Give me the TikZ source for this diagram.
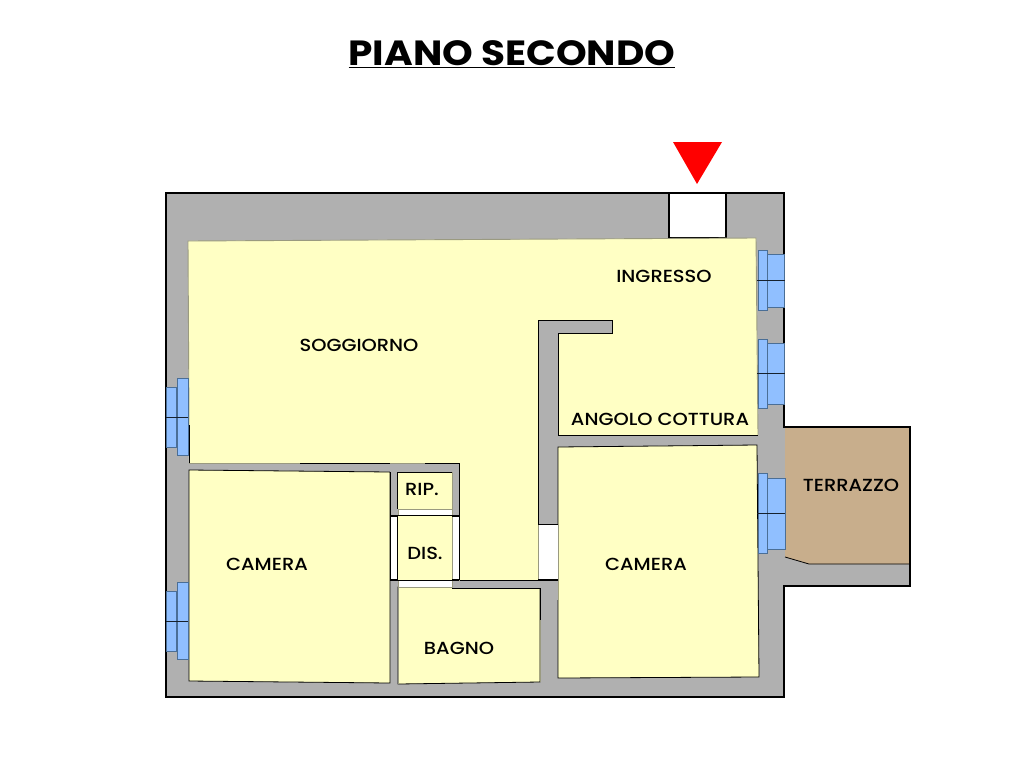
\documentclass[tikz,border=0pt]{standalone}
\usepackage{fontspec}
\setmainfont[FakeStretch=1.115]{Poppins}
\newfontfamily\labelfont[FakeStretch=1.11]{Poppins Medium}
\definecolor{wallgrey}{HTML}{B0B0B0}
\definecolor{roomyellow}{HTML}{FFFFC4}
\definecolor{glassblue}{HTML}{90BFFF}
\definecolor{frameblue}{HTML}{4A6E96}
\definecolor{terracetan}{HTML}{C8AE8C}
\definecolor{paleedge}{HTML}{9A9A80}
\tikzset{
  roomlabel/.style={font=\labelfont\fontsize{17.5}{20}\selectfont, text=black, inner sep=0pt},
  roomfill/.style={fill=roomyellow, draw=black, line width=0.8pt},
  opening/.style={fill=white, draw=paleedge, line width=0.8pt},
  edge/.style={draw=black, line width=0.8pt},
  softedge/.style={draw=paleedge, line width=0.9pt},
  jamb/.style={draw=black, line width=1.5pt},
  glasspane/.style={fill=glassblue, draw=frameblue, line width=1pt},
  crossbar/.style={draw=black!70!frameblue, line width=0.8pt}
}
\begin{document}
\begin{tikzpicture}[x=1pt,y=-1pt]
  \useasboundingbox (0,0) rectangle (1024,768);
  % title
  \node (title) at (512,54) {\fontsize{35}{40}\selectfont\bfseries\underline{PIANO SECONDO}};
  % entrance arrow
  \fill[red] (673,142)--(722,142)--(697,184)--cycle;

  % walls
  \draw[fill=wallgrey, draw=black, line width=1.6pt] (166,193)--(784,193)--(784,427)--(910,427)--(910,586)--(784,586)--(784,697)--(166,697)--cycle;
  \draw[fill=white, draw=black, line width=1.2pt] (669,193) rectangle (726,238);

  % rooms
  \fill[roomyellow] (188,241)--(756,238)--(758,435)--(558,435)--(558,333)--(612,333)--(612,320)--(538,320)--(538,580)--(459,580)--(459,463)--(189,463)--cycle;
  \draw[softedge] (189,425)--(188,241)--(756,238)--(758,435);
  \draw[edge] (189,425)--(189,463);
  \draw[softedge] (189,463)--(300,463);
  \draw[edge] (300,463)--(390,463);
  \draw[edge] (538,524)--(538,320)--(612,320)--(612,333)--(558,333)--(558,435)--(758,435);
  \draw[roomfill] (189,470)--(390,472)--(390,683)--(189,681)--cycle;
  \draw[roomfill] (558,447)--(757,445)--(759,677)--(558,678)--cycle;
  \draw[roomfill] (398,587)--(540,588)--(540,682)--(398,684)--cycle;
  \draw[softedge] (398,684)--(398,587);
  \draw[softedge] (540,620)--(540,682);

  % box round the storeroom
  \fill[wallgrey] (390,463) rectangle (459,516);
  \fill[wallgrey] (452,580) rectangle (558,588);
  \fill[wallgrey] (540,580) rectangle (558,600);
  \draw[edge] (425,463)--(459,463)--(459,516);
  \draw[softedge] (390,463)--(425,463);
  \draw[edge] (452,587)--(452,580)--(558,580);
  \draw[edge] (452,588)--(540,588)--(540,620);
  \fill[roomyellow] (397,472) rectangle (452,509);
  \draw[edge] (452,472)--(397,472)--(397,509);
  \draw[softedge] (452,472)--(452,509);
  \fill[roomyellow] (397,515) rectangle (452,580);
  \draw[softedge] (452,516)--(452,580);
  \draw[edge] (397,516)--(397,580);
  \draw[edge] (390,472)--(390,516);

  % doors
  \draw[opening] (398,509) rectangle (452,515);
  \draw[edge] (397,515)--(452,515);
  \draw[opening] (398,580) rectangle (452,587);
  \draw[edge] (397,580)--(452,580);
  \draw[fill=white, edge] (390,516) rectangle (397,580);
  \draw[jamb] (390,516)--(397,516);
  \draw[jamb] (390,580)--(397,580);
  \draw[opening] (452,516) rectangle (459,580);
  \draw[edge] (459,516)--(459,580);
  \draw[jamb] (452,516)--(459,516);
  \draw[jamb] (452,580)--(459,580);
  \draw[opening] (538,524) rectangle (558,580);
  \draw[edge] (538,524)--(558,524);
  \draw[jamb] (538,580)--(558,580);

  % terrace
  \fill[terracetan] (785,427)--(909,428)--(909,564)--(809,564)--(785,557)--cycle;
  \draw[edge] (785,557)--(809,564)--(909,564);
  \draw[black, line width=2pt] (785,427)--(910,427)--(910,586);

  % windows on the right
  \draw[glasspane] (758,250) rectangle (767,310);
  \draw[glasspane] (767,254) rectangle (784,307);
  \draw[crossbar] (757,280)--(785,280);
  \draw[glasspane] (758,339) rectangle (767,408);
  \draw[glasspane] (767,343) rectangle (784,404);
  \draw[crossbar] (757,373)--(785,373);
  \draw[glasspane] (758,473) rectangle (767,553);
  \draw[glasspane] (767,478) rectangle (785,549);
  \draw[crossbar] (757,513)--(785,513);
  % windows on the left
  \draw[glasspane] (166,387) rectangle (176,447);
  \draw[glasspane] (177,378) rectangle (188,455);
  \draw[crossbar] (166,417)--(188,417);
  \draw[glasspane] (166,591) rectangle (176,651);
  \draw[glasspane] (177,582) rectangle (188,659);
  \draw[crossbar] (166,621)--(188,621);

  % labels
  \node[roomlabel] (soggiorno) at (359,345) {SOGGIORNO};
  \node[roomlabel] (ingresso) at (664,276) {INGRESSO};
  \node[roomlabel] (cottura) at (660,419) {ANGOLO COTTURA};
  \node[roomlabel] (terrazzo) at (851,485) {TERRAZZO};
  \node[roomlabel] (rip) at (422,489) {RIP.};
  \node[roomlabel] (dis) at (425,553) {DIS.};
  \node[roomlabel] (cameraA) at (267,564) {CAMERA};
  \node[roomlabel] (cameraB) at (646,564) {CAMERA};
  \node[roomlabel] (bagno) at (459,648) {BAGNO};
\end{tikzpicture}
\end{document}
